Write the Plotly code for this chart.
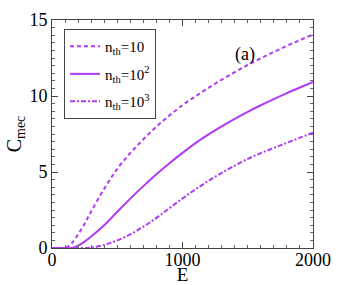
import plotly.graph_objects as go

E = [0, 100, 150, 200, 250, 300, 400, 500, 600, 700, 800, 900, 1000, 1100,
     1200, 1300, 1400, 1500, 1600, 1700, 1800, 1900, 2000]
c_n10 = [0, 0.0, 0.3, 0.9, 1.6, 2.4, 3.9, 5.2, 6.25, 7.15, 7.98, 8.72, 9.4,
         9.98, 10.54, 11.07, 11.57, 12.04, 12.48, 12.9, 13.3, 13.68, 14.05]
c_n100 = [0, 0.0, 0.0, 0.15, 0.42, 0.75, 1.5, 2.38, 3.25, 4.07, 4.85, 5.58, 6.26,
          6.9, 7.47, 8.0, 8.5, 8.96, 9.39, 9.8, 10.19, 10.56, 10.92]
c_n1000 = [0, 0.0, 0.0, 0.0, 0.0, 0.02, 0.2, 0.5, 0.9, 1.4, 1.98, 2.62, 3.26,
           3.86, 4.42, 4.94, 5.42, 5.86, 6.24, 6.58, 6.92, 7.26, 7.58]

names = ["n<sub>th</sub>=10", "n<sub>th</sub>=10<sup>2</sup>", "n<sub>th</sub>=10<sup>3</sup>"]
dashes = ["4px,3px", "solid", "5px,2px,2px,2px"]
color = "rgb(176,58,246)"

fig = go.Figure()
for i, (ys, nm, ds) in enumerate(zip([c_n10, c_n100, c_n1000], names, dashes)):
    fig.add_trace(go.Scatter(x=E, y=ys, mode="lines", name=nm, legendgroup=f"g{i}",
                             line=dict(color=color, width=2, dash=ds, shape="spline")))

font = "Liberation Serif"
axis_common = dict(showline=True, linecolor="#444", linewidth=1, mirror="allticks",
                   ticks="inside", ticklen=6, tickcolor="#444", showgrid=False,
                   zeroline=False, automargin=False,
                   tickfont=dict(family=font, size=18, color="black"))

fig.update_xaxes(range=[0, 2000], dtick=1000, tick0=0, ticklabelstandoff=-5,
                 minor=dict(ticks="inside", dtick=100, ticklen=3, tickcolor="#666"),
                 title=dict(text="E", font=dict(family=font, size=19, color="black"), standoff=3),
                 **axis_common)
fig.update_yaxes(range=[0, 15], dtick=5, tick0=0,
                 minor=dict(ticks="inside", dtick=0.5, ticklen=3, tickcolor="#666"),
                 title=dict(text="C<sub>mec</sub>", font=dict(family=font, size=20, color="black"), standoff=2),
                 **axis_common)

fig.add_annotation(x=0.785, y=0.905, xref="paper", yref="paper", text="(a)",
                   showarrow=False, font=dict(family=font, size=18, color="black"))

fig.update_layout(
    width=346, height=285,
    margin=dict(l=52, r=33, t=20, b=37),
    plot_bgcolor="white", paper_bgcolor="white",
    legend=dict(x=0.046, y=0.96, xanchor="left", yanchor="top",
                bordercolor="#444", borderwidth=1, bgcolor="white",
                font=dict(family=font, size=15, color="black"),
                itemwidth=30, tracegroupgap=5),
)

fig.write_html("out.html", config={"displayModeBar": False},
               post_script="document.body.style.margin='0';")
